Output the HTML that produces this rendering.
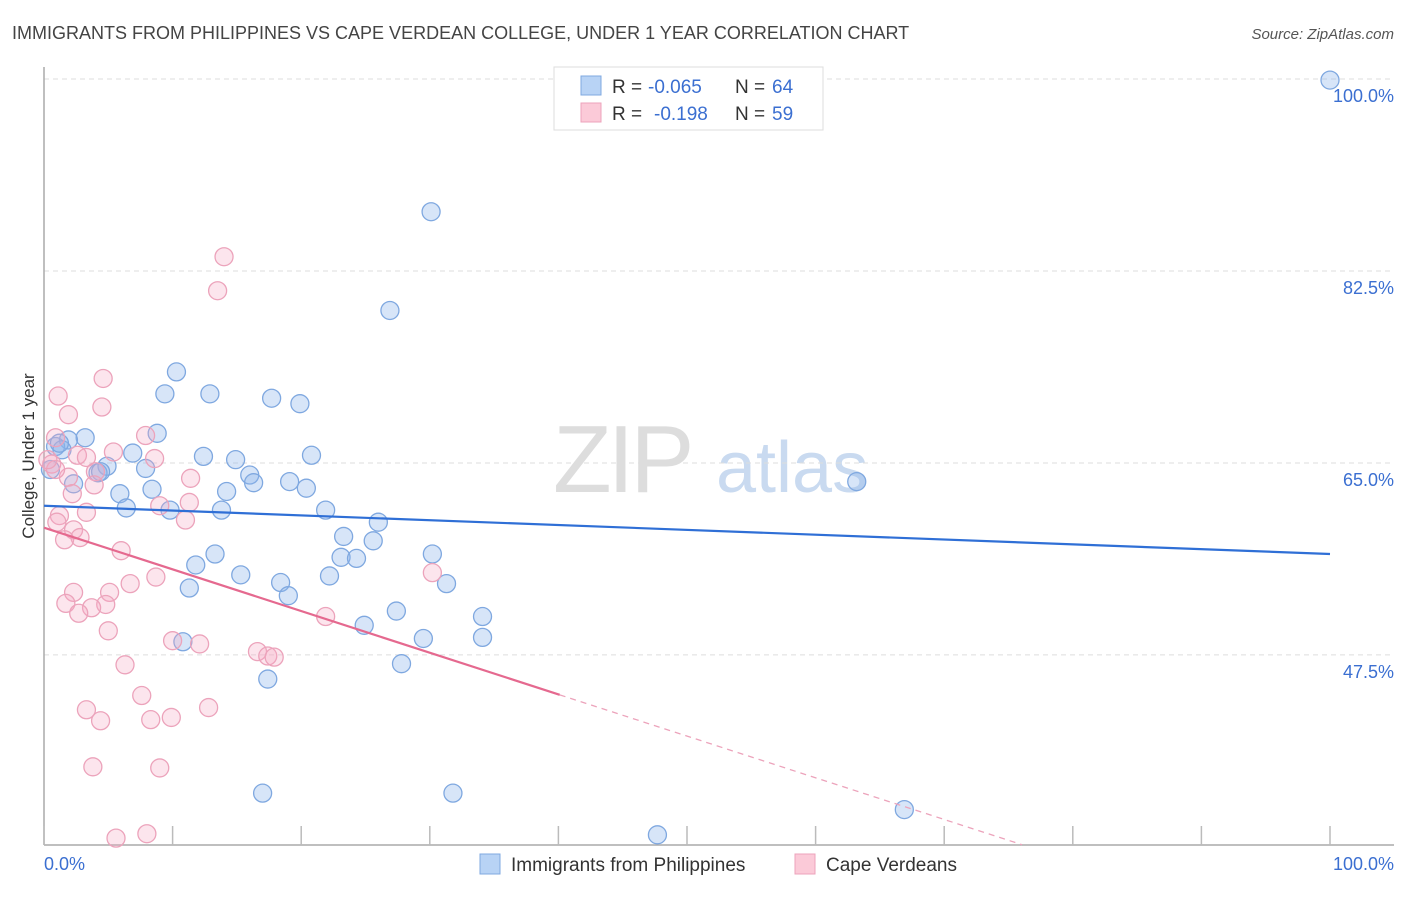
<!DOCTYPE html>
<html><head><meta charset="utf-8"><style>
body{margin:0;background:#fff;font-family:"Liberation Sans",sans-serif;}
svg text{font-family:"Liberation Sans",sans-serif;}
</style></head><body>
<svg id="chart" width="1406" height="892" xmlns="http://www.w3.org/2000/svg">
<text x="12" y="39" font-size="18" fill="#444">IMMIGRANTS FROM PHILIPPINES VS CAPE VERDEAN COLLEGE, UNDER 1 YEAR CORRELATION CHART</text>
<text x="1394" y="39" font-size="15" fill="#555" font-style="italic" text-anchor="end">Source: ZipAtlas.com</text>
<g>
<text x="553" y="492" font-size="96" fill="#ddd" font-family="Liberation Serif" letter-spacing="-4">ZIP</text>
<text x="716" y="492" font-size="72" fill="#c9daf0">atlas</text>
</g>
<g id="grid"></g>
<line x1="44" y1="67" x2="44" y2="845" stroke="#aaa" stroke-width="1.5"/>
<line x1="44" y1="845" x2="1394" y2="845" stroke="#aaa" stroke-width="1.5"/>
<g id="ticks"></g>
<text transform="translate(34,456) rotate(-90)" font-size="17" fill="#333" text-anchor="middle">College, Under 1 year</text>
<text x="44" y="870" font-size="18" fill="#3b6fd1">0.0%</text>
<text x="1394" y="870" font-size="18" fill="#3b6fd1" text-anchor="end">100.0%</text>
<g id="points"></g>
<g id="trends"></g>
<g>
<rect x="554" y="67" width="269" height="63" fill="#fff" stroke="#ddd"/>
<rect x="581" y="76" width="20" height="19" fill="#b8d3f5" stroke="#7fa8e0"/>
<rect x="581" y="103" width="20" height="19" fill="#fbcad8" stroke="#eca3bb"/>
<text x="612" y="93" font-size="19" fill="#333">R =</text>
<text x="648" y="93" font-size="19" fill="#3b6fd1">-0.065</text>
<text x="735" y="93" font-size="19" fill="#333">N =</text>
<text x="772" y="93" font-size="19" fill="#3b6fd1">64</text>
<text x="612" y="120" font-size="19" fill="#333">R =</text>
<text x="654" y="120" font-size="19" fill="#3b6fd1">-0.198</text>
<text x="735" y="120" font-size="19" fill="#333">N =</text>
<text x="772" y="120" font-size="19" fill="#3b6fd1">59</text>
</g>
<g>
<rect x="480" y="854" width="20" height="20" fill="#b8d3f5" stroke="#7fa8e0"/>
<text x="511" y="871" font-size="19" fill="#333">Immigrants from Philippines</text>
</g>
<g>
<rect x="795" y="854" width="20" height="20" fill="#fbcad8" stroke="#eca3bb"/>
<text x="826" y="871" font-size="19" fill="#333">Cape Verdeans</text>
</g>
</svg>
<script>
const yTicks=[100,82.5,65,47.5];
const yTickLabels=["100.0%","82.5%","65.0%","47.5%"];
const xTicks=[0,10,20,30,40,50,60,70,80,90,100];
const blueX=[100,30.1,26.9,10.3,9.4,12.9,17.7,19.9,8.8,3.2,1.9,0.9,1.4,12.4,20.8,14.9,6.9,4.9,7.9,4.2,16.0,16.3,19.1,20.4,2.3,8.4,5.9,14.2,6.4,9.8,13.8,21.9,26.0,23.3,25.6,30.2,13.3,23.1,24.3,11.8,15.3,22.2,18.4,31.3,11.3,19.0,27.4,34.1,24.9,29.5,34.1,10.8,27.8,17.4,63.2,17.0,31.8,47.7,66.9,0.5,4.4,1.2];
const blueY=[99.9,87.9,78.9,73.3,71.3,71.3,70.9,70.4,67.7,67.3,67.1,66.5,66.2,65.6,65.7,65.3,65.9,64.7,64.5,64.1,63.9,63.2,63.3,62.7,63.1,62.6,62.2,62.4,60.9,60.7,60.7,60.7,59.6,58.3,57.9,56.7,56.7,56.4,56.3,55.7,54.8,54.7,54.1,54.0,53.6,52.9,51.5,51.0,50.2,49.0,49.1,48.7,46.7,45.3,63.3,34.9,34.9,31.1,33.4,64.4,64.2,66.8];
const pinkX=[14.0,13.5,4.6,1.1,4.5,1.9,0.9,7.9,2.6,5.4,3.3,8.6,4.0,1.9,11.4,0.6,3.9,2.2,11.3,9.0,3.3,1.2,11.0,1.0,2.3,2.8,1.6,6.0,30.2,8.7,6.7,2.3,5.1,1.7,4.8,3.7,2.7,21.9,5.0,10.0,12.1,16.6,17.4,17.9,6.3,7.6,12.8,3.3,4.4,8.3,9.9,3.8,9.0,5.6,8.0,0.9,0.3];
const pinkY=[83.8,80.7,72.7,71.1,70.1,69.4,67.3,67.5,65.7,66.0,65.5,65.4,64.2,63.7,63.6,64.9,63.0,62.2,61.4,61.1,60.5,60.2,59.8,59.6,58.9,58.2,58.0,57.0,55.0,54.6,54.0,53.2,53.2,52.2,52.1,51.8,51.3,51.0,49.7,48.8,48.5,47.8,47.4,47.3,46.6,43.8,42.7,42.5,41.5,41.6,41.8,37.3,37.2,30.8,31.2,64.4,65.3];
const blueTrend=[61.1,56.7];
const pinkTrend=[59.1,-0.38];
const pinkSolidEnd=40.1;
const NS="http://www.w3.org/2000/svg";
const sx=v=>44+v*12.86;
const sy=v=>79+(100-v)*10.97;
function mk(tag,attrs,parent){const e=document.createElementNS(NS,tag);for(const k in attrs)e.setAttribute(k,attrs[k]);parent.appendChild(e);return e;}
const grid=document.getElementById('grid');
yTicks.forEach((t,i)=>{
  const l=mk('line',{x1:44,x2:1394,y1:sy(t),y2:sy(t),stroke:'#ddd','stroke-dasharray':'5,4'},grid);
  
  
  const tx=mk('text',{x:1394,y:sy(t)+23,'font-size':18,fill:'#3b6fd1','text-anchor':'end'},grid);
  tx.textContent=yTickLabels[i];
  
  
});
const ticks=document.getElementById('ticks');
xTicks.forEach(t=>{
  const l=mk('line',{x1:sx(t),x2:sx(t),y1:826,y2:845,stroke:'#bbb','stroke-width':1.5},ticks);
  
  
});
const pts=document.getElementById('points');
blueX.forEach((x,i)=>{
  const c=mk('circle',{cx:sx(x),cy:sy(blueY[i]),r:9,fill:'rgba(140,180,235,0.35)',stroke:'#7fa8e0','stroke-width':1.3},pts);
  
  
});
pinkX.forEach((x,i)=>{
  const c=mk('circle',{cx:sx(x),cy:sy(pinkY[i]),r:9,fill:'rgba(245,170,195,0.3)',stroke:'#eca3bb','stroke-width':1.3},pts);
  
  
});
const tr=document.getElementById('trends');
const bl=mk('line',{x1:sx(0),y1:sy(blueTrend[0]),x2:sx(100),y2:sy(blueTrend[1]),stroke:'#2f6fd6','stroke-width':2.2},tr);


const pv=x=>pinkTrend[0]+pinkTrend[1]*x;
const pl=mk('line',{x1:sx(0),y1:sy(pv(0)),x2:sx(pinkSolidEnd),y2:sy(pv(pinkSolidEnd)),stroke:'#e5698f','stroke-width':2.2},tr);


const xEnd=(30.2-pinkTrend[0])/pinkTrend[1];
const pd=mk('line',{x1:sx(pinkSolidEnd),y1:sy(pv(pinkSolidEnd)),x2:sx(xEnd),y2:sy(pv(xEnd)),stroke:'#eca3bb','stroke-width':1.3,'stroke-dasharray':'6,5'},tr);


</script>
</body></html>
